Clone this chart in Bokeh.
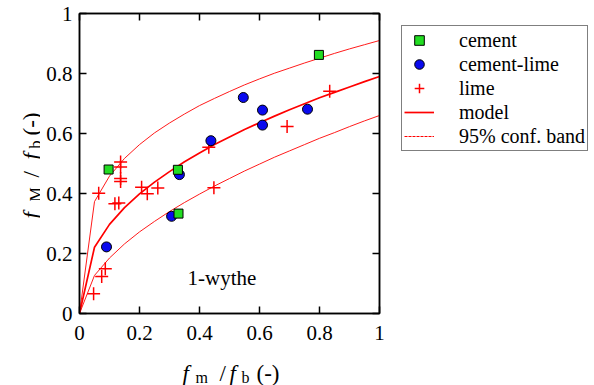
from bokeh.plotting import figure
from bokeh.models import (LinearAxis, FixedTicker, Label, Legend, LegendItem,
                          Range1d, CustomJSTickFormatter, CustomLabelingPolicy)
from bokeh.layouts import row, column
from bokeh.embed import file_html
from bokeh.resources import INLINE

# ---- data ----
cement_x = [0.097, 0.328, 0.330, 0.798]
cement_y = [0.480, 0.479, 0.333, 0.862]

cl_x = [0.090, 0.307, 0.333, 0.438, 0.546, 0.610, 0.610, 0.760]
cl_y = [0.222, 0.324, 0.463, 0.576, 0.720, 0.678, 0.628, 0.681]

lime_x = [0.047, 0.074, 0.086, 0.064, 0.118, 0.131, 0.137, 0.137, 0.137, 0.137,
          0.207, 0.226, 0.261, 0.431, 0.448, 0.692, 0.834]
lime_y = [0.066, 0.123, 0.149, 0.401, 0.366, 0.368, 0.505, 0.488, 0.450, 0.440,
          0.421, 0.399, 0.418, 0.554, 0.419, 0.623, 0.741]

curve_x = [0, 0.05, 0.1, 0.15, 0.2, 0.25, 0.3, 0.35, 0.4, 0.45, 0.5,
           0.55, 0.6, 0.65, 0.7, 0.75, 0.8, 0.85, 0.9, 0.95, 1.0]
model_y = [0, 0.221, 0.297, 0.353, 0.399, 0.438, 0.473, 0.506, 0.535, 0.563, 0.588,
           0.613, 0.636, 0.658, 0.679, 0.699, 0.719, 0.737, 0.755, 0.773, 0.790]
upper_y = [0, 0.373, 0.458, 0.517, 0.563, 0.602, 0.635, 0.665, 0.693, 0.717, 0.740,
           0.762, 0.782, 0.801, 0.818, 0.835, 0.851, 0.867, 0.882, 0.896, 0.910]
lower_y = [0, 0.127, 0.185, 0.232, 0.272, 0.307, 0.340, 0.370, 0.398, 0.425, 0.450,
           0.475, 0.498, 0.521, 0.542, 0.563, 0.584, 0.603, 0.623, 0.642, 0.660]

tick_vals = [0, 0.2, 0.4, 0.6, 0.8, 1]
tick_labels = ["0", "0.2", "0.4", "0.6", "0.8", "1"]

series_names = ["cement", "cement-lime", "lime", "model", "95% conf. band"]

FONT = "Liberation Serif"
RED = "#ff0000"
GREEN = "#22dd22"
BLUE = "#0a0aee"

# ---------------- main plot ----------------
p = figure(width=351, height=352, output_backend="svg", toolbar_location=None,
           title=None,
           x_range=Range1d(0, 1), y_range=Range1d(0, 1),
           min_border_left=39, min_border_right=12, min_border_top=13,
           min_border_bottom=39, x_axis_location=None, y_axis_location=None)
p.xgrid.visible = False
p.ygrid.visible = False
p.outline_line_color = "black"
p.outline_line_width = 1.5
p.border_fill_color = "white"

fmt = CustomJSTickFormatter(args=dict(vals=tick_vals, labs=tick_labels), code="""
    for (let i = 0; i < vals.length; i++) {
        if (Math.abs(vals[i] - tick) < 1e-9) return labs[i]
    }
    return ''
""")
no_labels = CustomLabelingPolicy(code="""
    try { for (let i = 0; i < indices.size; i++) indices.unset(i) } catch (e) {}
    return indices
""")

def make_axis(show_labels):
    ax = LinearAxis(ticker=FixedTicker(ticks=tick_vals))
    ax.major_tick_in = 7
    ax.major_tick_out = 0
    ax.minor_tick_in = 0
    ax.minor_tick_out = 0
    ax.axis_line_width = 1.5
    ax.major_tick_line_width = 1.5
    ax.axis_line_color = "black"
    ax.major_tick_line_color = "black"
    if show_labels:
        ax.formatter = fmt
        ax.major_label_text_font = FONT
        ax.major_label_text_font_size = "21px"
        ax.major_label_text_color = "black"
    else:
        ax.major_label_policy = no_labels
        ax.major_label_text_font_size = "0px"
        ax.major_label_standoff = 0
    return ax

bx = make_axis(True)
bx.major_label_standoff = 12
p.add_layout(bx, "below")
ly = make_axis(True)
ly.major_label_standoff = 7
p.add_layout(ly, "left")
p.add_layout(make_axis(False), "above")
p.add_layout(make_axis(False), "right")

# curves
p.line(curve_x, upper_y, line_color=RED, line_width=0.9)
p.line(curve_x, lower_y, line_color=RED, line_width=0.9)
p.line(curve_x, model_y, line_color=RED, line_width=1.7)

# points
p.scatter(lime_x, lime_y, marker="cross", size=13, line_color=RED, line_width=1.5)
p.scatter(cl_x, cl_y, marker="circle", size=10, fill_color=BLUE,
          line_color="black", line_width=1)
p.scatter(cement_x, cement_y, marker="square", size=9, fill_color=GREEN,
          line_color="black", line_width=1)

p.add_layout(Label(x=0.36, y=0.077, text="1-wythe", text_font=FONT,
                   text_font_size="21px", text_color="black"))

# ---------------- helper strips ----------------
# In a row, Bokeh aligns the frames of the figures with the main frame
# (page y 13..313), so side strips use a 300 px tall coordinate system.
def strip(w, h, x0=0, yh=None):
    f = figure(width=w, height=h, output_backend="svg", toolbar_location=None,
               title=None,
               x_range=Range1d(x0, x0 + w), y_range=Range1d(0, yh or h),
               min_border=0, x_axis_location=None, y_axis_location=None)
    f.xgrid.visible = False
    f.ygrid.visible = False
    f.outline_line_color = None
    f.border_fill_color = "white"
    f.background_fill_color = "white"
    return f

def piece(fig, x, y, txt, size, italic=False, angle=0):
    fig.add_layout(Label(x=x, y=y, text=txt, text_font=FONT, text_font_size=size,
                         text_font_style="italic" if italic else "normal",
                         text_color="black", text_align="left",
                         text_baseline="alphabetic", angle=angle))

# y-axis label (y measured upward from the frame bottom at page y 313)
A = 1.5707963
yfig = strip(40, 352, yh=300)
piece(yfig, 31, 95, "f", "23px", italic=True, angle=A)
piece(yfig, 35, 112, "M", "16px", angle=A)
piece(yfig, 31, 136, "/", "23px", angle=A)
piece(yfig, 31, 154, "f", "23px", italic=True, angle=A)
piece(yfig, 35, 165, "b", "16px", angle=A)
piece(yfig, 31, 178, "(-)", "23px", angle=A)

# legend strip (its renderers sit far outside the visible range)
lfig = strip(203, 352, x0=100, yh=300)
d_cem = lfig.scatter(cement_x, cement_y, marker="square", size=8, fill_color=GREEN,
                     line_color="black", line_width=1)
d_cl = lfig.scatter(cl_x, cl_y, marker="circle", size=8, fill_color=BLUE,
                    line_color="black", line_width=1)
d_lime = lfig.scatter(lime_x, lime_y, marker="cross", size=13, line_color=RED,
                      line_width=1.5)
d_model = lfig.line(curve_x, model_y, line_color=RED, line_width=1.7)
d_band = lfig.line(curve_x, upper_y, line_color=RED, line_width=1.2,
                   line_dash="3 1")

legend = Legend(items=[LegendItem(label=n, renderers=[r]) for n, r in
                       zip(series_names, [d_cem, d_cl, d_lime, d_model, d_band])],
                location=(10, 162))
legend.label_text_font = FONT
legend.label_text_font_size = "20px"
legend.label_text_color = "black"
legend.border_line_color = "black"
legend.border_line_width = 1.5
legend.background_fill_alpha = 1
legend.padding = 2
legend.spacing = 0
legend.margin = 0
legend.label_height = 24
legend.glyph_height = 24
legend.glyph_width = 30
legend.label_standoff = 25
lfig.add_layout(legend, "center")

# x-axis label
xfig = strip(594, 33)
piece(xfig, 182, 12, "f", "23px", italic=True)
piece(xfig, 195, 8, "m", "16px")
piece(xfig, 219, 12, "/", "23px")
piece(xfig, 229, 12, "f", "23px", italic=True)
piece(xfig, 241, 8, "b", "16px")
piece(xfig, 256, 12, "(-)", "23px")

layout = column(row(yfig, p, lfig, spacing=0), xfig, spacing=0)
open("out.html", "w").write(file_html(layout, INLINE))
